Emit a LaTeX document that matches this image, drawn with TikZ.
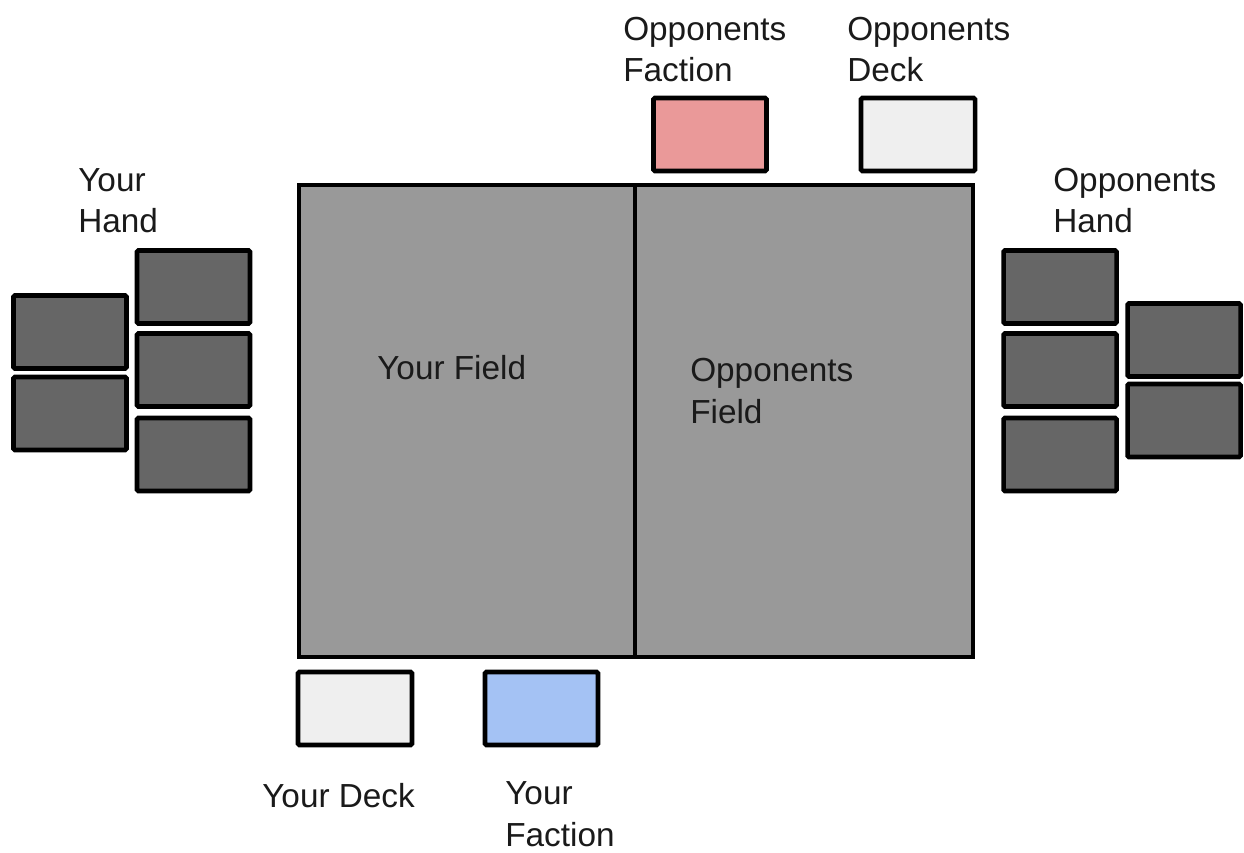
\documentclass[tikz,border=0pt]{standalone}
\usepackage{fontspec}
\setmainfont{Liberation Sans}
\definecolor{cardgray}{HTML}{666666}
\definecolor{fieldgray}{HTML}{999999}
\definecolor{deckgray}{HTML}{EFEFEF}
\definecolor{oppred}{HTML}{EA9999}
\definecolor{youblue}{HTML}{A4C2F4}
\definecolor{txt}{HTML}{1A1A1A}
\begin{document}
\begin{tikzpicture}[x=0.75pt,y=-0.75pt,
  box/.style={draw=black,line width=3.4pt,rounded corners=1pt,inner sep=0pt,outer sep=0pt,
    minimum width=84.75pt,minimum height=54.75pt},
  card/.style={box,fill=cardgray},
  field/.style={draw=black,line width=3.4pt,fill=fieldgray,inner sep=0pt,outer sep=0pt,minimum height=354pt},
  lbl/.style={anchor=base west,inner sep=0pt,align=left,text=txt,
    font=\fontsize{25}{31}\selectfont}]
\useasboundingbox (0,0) rectangle (1244,852);
% fields
\node[field,minimum width=252pt] (yourfield) at (467,421) {};
\node[field,minimum width=253.5pt] (oppfield) at (804,421) {};
% your hand
\node[card] (yh1) at (193.5,287) {};
\node[card] (yh2) at (193.5,370) {};
\node[card] (yh3) at (193.5,454.5) {};
\node[card] (yh4) at (70,332) {};
\node[card] (yh5) at (70,413.5) {};
% opponents hand
\node[card] (oh1) at (1060,287) {};
\node[card] (oh2) at (1060,370) {};
\node[card] (oh3) at (1060,454.5) {};
\node[card] (oh4) at (1184,340) {};
\node[card] (oh5) at (1184,420.5) {};
% decks and factions
\node[box,fill=oppred] (oppfaction) at (710,134.5) {};
\node[box,fill=deckgray,minimum width=85.5pt] (oppdeck) at (918,134.5) {};
\node[box,fill=deckgray,minimum width=85.5pt] (yourdeck) at (355,708.5) {};
\node[box,fill=youblue] (yourfaction) at (541.5,708.5) {};
% labels (base = baseline of last line)
\node[lbl] (lyh) at (78,233) {Your\\Hand};
\node[lbl] (lof) at (623,82) {Opponents\\Faction};
\node[lbl] (lod) at (847,82) {Opponents\\Deck};
\node[lbl] (loh) at (1053,233) {Opponents\\Hand};
\node[lbl] (lyf) at (377,379) {Your Field};
\node[lbl] (lofi) at (690,423) {Opponents\\Field};
\node[lbl] (lyd) at (262,807) {Your Deck};
\node[lbl] (lyfa) at (505,846) {Your\\Faction};
\end{tikzpicture}
\end{document}
